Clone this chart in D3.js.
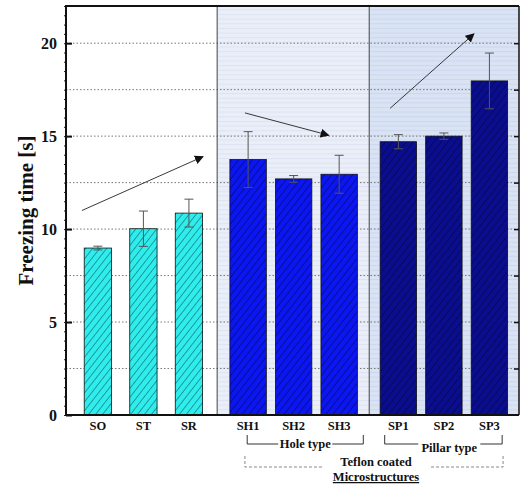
<!DOCTYPE html>
<html>
<head>
<meta charset="utf-8">
<script src="https://cdn.jsdelivr.net/npm/d3@7"></script>
<style>
  body { margin: 0; background: #fff; }
  text { font-family: "Liberation Serif", "Times New Roman", serif; font-weight: bold; fill: #111; }
</style>
</head>
<body>
<svg id="chart" width="521" height="484"></svg>
<script>
// samples and their x slots (gaps between groups)
var labels = ['SO', 'ST', 'SR', 'SH1', 'SH2', 'SH3', 'SP1', 'SP2', 'SP3'];
var slots = [0, 1, 2, 3.3, 4.3, 5.3, 6.6, 7.6, 8.6];
var values = [8.98, 10.02, 10.86, 13.74, 12.7, 12.95, 14.7, 15.0, 17.97];
var errors = [0.1, 0.95, 0.75, 1.5, 0.18, 1.02, 0.38, 0.17, 1.5];
var groups = ['plain', 'plain', 'plain', 'hole', 'hole', 'hole', 'pillar', 'pillar', 'pillar'];
var yTicks = [0, 5, 10, 15, 20];

// background sections [from, to] in slot units
var sections = [
  {name: 'plain', from: -0.7, to: 2.62},
  {name: 'hole', from: 2.62, to: 5.96},
  {name: 'pillar', from: 5.96, to: 9.25}
];

// trend arrows: [x0, y0, x1, y1] in slot / seconds
var arrows = [
  [-0.35, 11.0, 2.31, 13.9],
  [3.23, 16.25, 5.07, 15.05],
  [6.42, 16.5, 8.26, 20.5]
];

// bracket annotations below the axis
var brackets = [
  {label: 'Hole type', from: 3.28, to: 5.83, dashed: false},
  {label: 'Pillar type', from: 6.3, to: 8.88, dashed: false},
  {label: 'Teflon coated', from: 3.23, to: 8.9, dashed: true}
];

var colors = {plain: '#30eded', hole: '#0b16f0', pillar: '#0a0e8e'};
var bgColors = {plain: '#ffffff', hole: '#eaeef8', pillar: '#dae3f4'};
var stripeColors = {plain: 'none', hole: '#dde3f1', pillar: '#cbd7ee'};

var svg = d3.select('#chart');
var plotLeft = 66, plotRight = 519, plotTop = 6, plotBottom = 415;

var x = d3.scaleLinear().domain([-0.7, 9.25]).range([plotLeft, plotRight]);
var y = d3.scaleLinear().domain([0, 22]).range([plotBottom, plotTop]);
var unit = x(1) - x(0);

var defs = svg.append('defs');

defs.append('pattern')
  .attr('id', 'hatch')
  .attr('patternUnits', 'userSpaceOnUse')
  .attr('width', 5.5).attr('height', 6)
  .attr('patternTransform', 'rotate(38)')
  .append('line')
    .attr('x1', 0).attr('y1', 0).attr('x2', 0).attr('y2', 6)
    .attr('stroke', '#000').attr('stroke-width', 0.8);

['hole', 'pillar'].forEach(function(g) {
  var p = defs.append('pattern')
    .attr('id', 'stripe-' + g)
    .attr('patternUnits', 'userSpaceOnUse')
    .attr('width', 10).attr('height', 4.65);
  p.append('rect').attr('width', 10).attr('height', 4.65).attr('fill', bgColors[g]);
  p.append('line')
    .attr('x1', 0).attr('x2', 10).attr('y1', 0.5).attr('y2', 0.5)
    .attr('stroke', stripeColors[g]).attr('stroke-width', 1);
});

defs.append('marker')
  .attr('id', 'arrowhead')
  .attr('viewBox', '0 0 10 10')
  .attr('refX', 9).attr('refY', 5)
  .attr('markerWidth', 9).attr('markerHeight', 9)
  .attr('markerUnits', 'userSpaceOnUse')
  .attr('orient', 'auto')
  .append('path')
    .attr('d', 'M0,0 L10,5 L0,10 z')
    .attr('fill', '#111');

// section backgrounds
svg.selectAll('rect.section').data(sections).enter()
  .append('rect')
    .attr('class', 'section')
    .attr('x', function(d) { return x(d.from); })
    .attr('y', plotTop)
    .attr('width', function(d) { return x(d.to) - x(d.from); })
    .attr('height', plotBottom - plotTop)
    .attr('fill', function(d) { return d.name == 'plain' ? bgColors.plain : 'url(#stripe-' + d.name + ')'; });

// dotted grid every 2.5
var gridVals = d3.range(2.5, 22, 2.5);
svg.selectAll('line.grid').data(gridVals).enter()
  .append('line')
    .attr('class', 'grid')
    .attr('x1', plotLeft).attr('x2', plotRight)
    .attr('y1', function(d) { return y(d); })
    .attr('y2', function(d) { return y(d); })
    .attr('stroke', '#777')
    .attr('stroke-width', 1)
    .attr('stroke-dasharray', '1.5,2');

// section dividers
svg.selectAll('line.divider').data(sections.slice(1)).enter()
  .append('line')
    .attr('class', 'divider')
    .attr('x1', function(d) { return x(d.from); })
    .attr('x2', function(d) { return x(d.from); })
    .attr('y1', plotTop).attr('y2', plotBottom)
    .attr('stroke', '#444').attr('stroke-width', 1);

// bars
var bars = svg.selectAll('g.bar').data(labels).enter()
  .append('g').attr('class', 'bar');

function barWidth(i) { return (groups[i] == 'plain' ? 0.6 : 0.8) * unit; }

bars.append('rect')
  .attr('x', function(d, i) { return x(slots[i]) - barWidth(i) / 2; })
  .attr('y', function(d, i) { return y(values[i]); })
  .attr('width', function(d, i) { return barWidth(i); })
  .attr('height', function(d, i) { return y(0) - y(values[i]); })
  .attr('fill', function(d, i) { return colors[groups[i]]; })
  .attr('stroke', '#111').attr('stroke-width', 0.8);

bars.append('rect')
  .attr('x', function(d, i) { return x(slots[i]) - barWidth(i) / 2; })
  .attr('y', function(d, i) { return y(values[i]); })
  .attr('width', function(d, i) { return barWidth(i); })
  .attr('height', function(d, i) { return y(0) - y(values[i]); })
  .attr('fill', 'url(#hatch)')
  .attr('opacity', 0.9);

// error bars
bars.append('line')
  .attr('x1', function(d, i) { return x(slots[i]); })
  .attr('x2', function(d, i) { return x(slots[i]); })
  .attr('y1', function(d, i) { return y(values[i] - errors[i]); })
  .attr('y2', function(d, i) { return y(values[i] + errors[i]); })
  .attr('stroke', '#555').attr('stroke-width', 1);

[-1, 1].forEach(function(s) {
  bars.append('line')
    .attr('x1', function(d, i) { return x(slots[i]) - 4.5; })
    .attr('x2', function(d, i) { return x(slots[i]) + 4.5; })
    .attr('y1', function(d, i) { return y(values[i] + s * errors[i]); })
    .attr('y2', function(d, i) { return y(values[i] + s * errors[i]); })
    .attr('stroke', '#555').attr('stroke-width', 1);
});

// arrows
svg.selectAll('line.arrow').data(arrows).enter()
  .append('line')
    .attr('class', 'arrow')
    .attr('x1', function(d) { return x(d[0]); })
    .attr('y1', function(d) { return y(d[1]); })
    .attr('x2', function(d) { return x(d[2]); })
    .attr('y2', function(d) { return y(d[3]); })
    .attr('stroke', '#222').attr('stroke-width', 0.9)
    .attr('marker-end', 'url(#arrowhead)');

// frame
svg.append('line').attr('x1', plotLeft).attr('x2', plotRight).attr('y1', plotTop).attr('y2', plotTop)
  .attr('stroke', '#111').attr('stroke-width', 2);
svg.append('line').attr('x1', plotRight).attr('x2', plotRight).attr('y1', plotTop).attr('y2', plotBottom)
  .attr('stroke', '#111').attr('stroke-width', 1.5);

// left axis: minor ticks outside, majors inside
var minor = d3.range(0, 22.01, 0.5);
svg.append('g')
  .attr('transform', 'translate(' + plotLeft + ',0)')
  .call(d3.axisLeft(y).tickValues(minor).tickSize(2).tickFormat(''))
  .call(function(g) { g.select('.domain').remove(); g.selectAll('line').attr('stroke', '#222'); });

var yAxis = svg.append('g')
  .attr('transform', 'translate(' + plotLeft + ',0)')
  .call(d3.axisRight(y).tickValues(yTicks).tickSize(6).tickFormat(d3.format('d')));
yAxis.select('.domain').remove();
yAxis.selectAll('line').attr('stroke', '#111').attr('stroke-width', 2);
yAxis.selectAll('text')
  .attr('x', -9).attr('text-anchor', 'end')
  .style('font-family', '"Liberation Serif", serif')
  .style('font-weight', 'bold')
  .style('font-size', '16px')
  .attr('fill', '#111');

svg.append('line').attr('x1', plotLeft).attr('x2', plotLeft).attr('y1', plotTop - 1).attr('y2', plotBottom + 1)
  .attr('stroke', '#111').attr('stroke-width', 2);

// right axis ticks (inward)
svg.append('g')
  .attr('transform', 'translate(' + plotRight + ',0)')
  .call(d3.axisLeft(y).tickValues(gridVals).tickSize(5).tickFormat(''))
  .call(function(g) { g.select('.domain').remove(); g.selectAll('line').attr('stroke', '#111').attr('stroke-width', 1.5); });

// bottom axis
svg.append('line').attr('x1', plotLeft - 1).attr('x2', plotRight).attr('y1', plotBottom).attr('y2', plotBottom)
  .attr('stroke', '#111').attr('stroke-width', 2);

svg.selectAll('text.xlabel').data(labels).enter()
  .append('text')
    .attr('class', 'xlabel')
    .attr('x', function(d, i) { return x(slots[i]); })
    .attr('y', 430)
    .attr('text-anchor', 'middle')
    .style('font-size', '12.5px')
    .text(function(d) { return d; });

// y title
svg.append('text')
  .attr('transform', 'translate(33,' + (plotTop + plotBottom) / 2 + ') rotate(-90)')
  .attr('text-anchor', 'middle')
  .style('font-size', '21px')
  .text('Freezing time [s]');

// brackets
brackets.forEach(function(b) {
  var x0 = x(b.from), x1 = x(b.to);
  var yTop = b.dashed ? 456 : 435, yBot = b.dashed ? 467 : 444;
  var stroke = b.dashed ? '#888' : '#333';
  var dash = b.dashed ? '3,2' : null;
  var cx = b.dashed ? 376 : (b.label == 'Hole type' ? x0 + (x1 - x0) * 0.5 : x0 + (x1 - x0) * 0.55);
  var gap = b.dashed ? 54 : (b.label == 'Hole type' ? 27 : 31);
  var g = svg.append('g').attr('fill', 'none').attr('stroke', stroke).attr('stroke-width', 1)
    .attr('stroke-dasharray', dash);
  g.append('path').attr('d', 'M' + x0 + ',' + yTop + 'V' + yBot + 'H' + (cx - gap));
  g.append('path').attr('d', 'M' + x1 + ',' + yTop + 'V' + yBot + 'H' + (cx + gap));
  svg.append('text')
    .attr('x', cx)
    .attr('y', b.dashed ? 466 : (b.label == 'Hole type' ? 448 : 452))
    .attr('text-anchor', 'middle')
    .style('font-size', '12.5px')
    .text(b.label);
  if (b.dashed) {
    svg.append('text')
      .attr('x', cx).attr('y', 481)
      .attr('text-anchor', 'middle')
      .style('font-size', '12.5px')
      .style('text-decoration', 'underline')
      .text('Microstructures');
  }
});
</script>
</body>
</html>
